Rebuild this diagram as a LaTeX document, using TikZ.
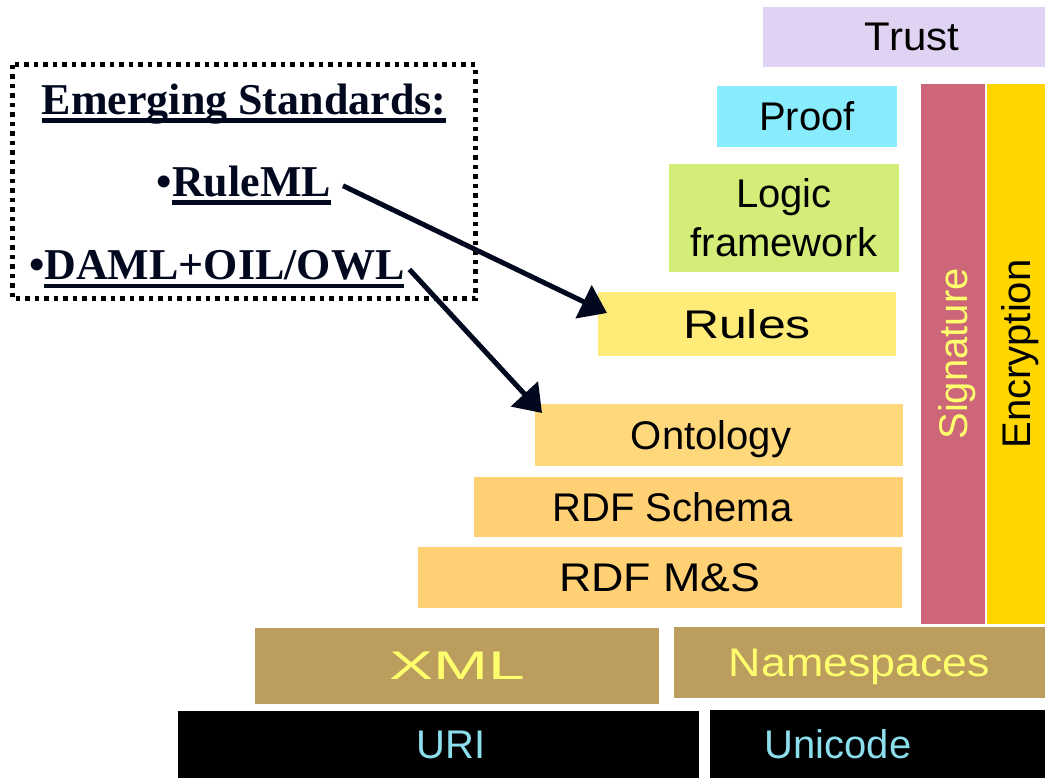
\documentclass[tikz,border=0pt]{standalone}
\usepackage{fontspec}
\setmainfont{Liberation Serif}
\setsansfont{Liberation Sans}
\usepackage{xcolor}
\usepackage{graphicx}
\usepackage{tikz}
\usetikzlibrary{calc,arrows.meta}
\definecolor{trustc}{RGB}{224,210,242}
\definecolor{proofc}{RGB}{136,236,252}
\definecolor{logicc}{RGB}{212,236,120}
\definecolor{rulesc}{RGB}{255,236,120}
\definecolor{ontoc}{RGB}{255,216,124}
\definecolor{rdfc}{RGB}{255,208,116}
\definecolor{sigc}{RGB}{204,102,120}
\definecolor{encc}{RGB}{255,214,0}
\definecolor{xmlc}{RGB}{187,158,94}
\definecolor{paleyellow}{RGB}{255,255,110}
\definecolor{paleblue}{RGB}{140,222,236}
\definecolor{navy}{RGB}{2,8,30}
\newcommand{\thickul}[1]{\setbox0\hbox{#1}\rlap{\rule[-8pt]{\wd0}{4.5pt}}\box0}
\tikzset{layer/.style={inner sep=0pt,outer sep=0pt,text depth=0pt,font=\sffamily\fontsize{40}{49}\selectfont},
	std label/.style={inner sep=0pt,outer sep=0pt,text=navy,font=\bfseries\fontsize{44}{50}\selectfont},
	std frame/.style={line width=5pt,dash pattern=on 4.5pt off 5pt},
	std arrow/.style={navy,line width=5pt,-{Triangle[length=26pt,width=36pt]}}}

\begin{document}
\begin{tikzpicture}[x=1pt,y=-1pt]
				\useasboundingbox (0,0) rectangle (1045,778);
				\node[layer,fill=trustc,minimum width=282,minimum height=60] (trust) at (904,37) {\hspace*{16pt}\scalebox{1.05}[1]{Trust}};
				\node[layer,fill=proofc,minimum width=180,minimum height=61] (proof) at (807,116.5) {Proof};
				\node[layer,fill=logicc,minimum width=230,minimum height=108,align=center] (logic) at (784,218) {Logic\\framework};
				\node[layer,fill=rulesc,minimum width=298,minimum height=64] (rules) at (747,324) {\scalebox{1.25}[1]{Rules}};
				\node[layer,fill=sigc,text=paleyellow,rotate=90,minimum width=540,minimum height=64] (sig) at (953,354) {Signature};
				\node[layer,fill=encc,rotate=90,minimum width=540,minimum height=58] (enc) at (1016,354) {Encryption};
				\node[layer,fill=ontoc,minimum width=368,minimum height=62] (onto) at (719,435) {Ontology\hspace*{16pt}};
				\node[layer,fill=rdfc,minimum width=429,minimum height=60] (rdfs) at (688.5,507) {RDF Schema\hspace*{32pt}};
				\node[layer,fill=rdfc,minimum width=484,minimum height=61] (rdfms) at (660,577.5) {\scalebox{1.12}[1]{RDF M\&S}};
				\node[layer,fill=xmlc,text=paleyellow,minimum width=404,minimum height=76] (xml) at (457,666) {\scalebox{1.65}[1]{XML}};
				\node[layer,fill=xmlc,text=paleyellow,minimum width=371,minimum height=71] (ns) at (859.5,662.5) {\scalebox{1.12}[1]{Namespaces}};
				\node[layer,fill=black,text=paleblue,minimum width=521,minimum height=67] (uri) at (438.5,744.5) {\hspace*{25pt}URI};
				\node[layer,fill=black,text=paleblue,minimum width=335,minimum height=68] (unicode) at (877.5,744) {Unicode\hspace*{79pt}};
				\draw[std frame] (12,65) rectangle (475,299);
				\node[std label,anchor=base] (emerging) at (244,115) {\thickul{Emerging Standards:}};
				\node[std label,anchor=base east] (ruleml) at (331,197) {\textbullet\thickul{RuleML}};
				\node[std label,anchor=base west] (daml) at (29,280) {\textbullet\thickul{DAML+OIL/OWL}};
				\draw[std arrow] ($(ruleml.east)+(12,0)$) -- ($(rules.west)+(9,-11)$);
				\draw[std arrow] ($(daml.east)+(5,0)$) -- ($(onto.north west)+(7,9)$);
			\end{tikzpicture}
\end{document}
